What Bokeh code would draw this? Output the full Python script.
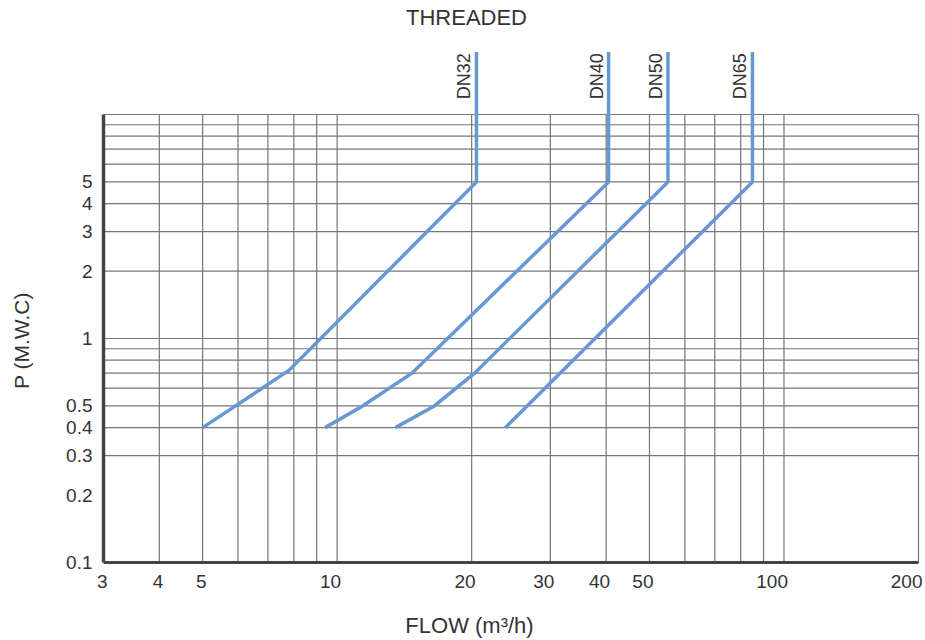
import math
from bokeh.plotting import figure
from bokeh.models import Range1d, FixedTicker, Label, LabelSet, ColumnDataSource
from bokeh.embed import file_html
from bokeh.resources import INLINE
from bokeh.core.properties import value

# ---------------- data ----------------
x_ticks = [3, 4, 5, 10, 20, 30, 40, 50, 100, 200]
x_tick_labels = ["3", "4", "5", "10", "20", "30", "40", "50", "100", "200"]
y_ticks = [0.1, 0.2, 0.3, 0.4, 0.5, 1, 2, 3, 4, 5]
y_tick_labels = ["0.1", "0.2", "0.3", "0.4", "0.5", "1", "2", "3", "4", "5"]
x_grid = [4, 5, 6, 7, 8, 9, 10, 20, 30, 40, 50, 60, 70, 80, 90, 100, 200]
y_grid = [0.3, 0.4, 0.5, 0.6, 0.7, 0.8, 0.9, 1, 2, 3, 4, 5, 6, 7, 8, 9, 10]

series_names = ["DN32", "DN40", "DN50", "DN65"]
dn32_flow = [5.0, 7.8, 20.5, 20.5]
dn32_p = [0.4, 0.72, 5, 19]
dn40_flow = [9.4, 11.4, 14.7, 40.5, 40.5]
dn40_p = [0.4, 0.5, 0.7, 5, 19]
dn50_flow = [13.5, 16.5, 20.3, 55, 55]
dn50_p = [0.4, 0.5, 0.7, 5, 19]
dn65_flow = [23.8, 85, 85]
dn65_p = [0.4, 5, 19]

title_text = "THREADED"
x_title = "FLOW (m³/h)"
y_title = "P (M.W.C)"

# ---------------- layout / styling constants ----------------
W, H = 924, 638
X_MIN, X_MAX = 3, 200          # axis extent (data)
Y_MIN, Y_MAX = 0.1, 10
PX_LEFT, PX_RIGHT = 103, 918   # where the axis extent sits on the canvas
PX_TOP, PX_BOTTOM = 114, 562
LABEL_Y = 11.7
BLUE = "#6699d2"
GRID = "#767676"
AXIS = "#444444"
TXT = "#333333"
FONT = "Liberation Sans"

# log ranges so that the axis extent lands on the chosen pixels
kx = (PX_RIGHT - PX_LEFT) / math.log10(X_MAX / X_MIN)
ky = (PX_BOTTOM - PX_TOP) / math.log10(Y_MAX / Y_MIN)
x_start = X_MIN * 10 ** (-PX_LEFT / kx)
x_end = X_MIN * 10 ** ((W - PX_LEFT) / kx)
y_start = Y_MIN * 10 ** (-(H - PX_BOTTOM) / ky)
y_end = Y_MIN * 10 ** (PX_BOTTOM / ky)

p = figure(width=W, height=H, x_axis_type="log", y_axis_type="log",
           x_range=Range1d(x_start, x_end), y_range=Range1d(y_start, y_end),
           output_backend="svg", toolbar_location=None,
           min_border_left=0, min_border_right=0, min_border_top=0, min_border_bottom=0)
p.title.visible = False
p.grid.visible = False
p.outline_line_color = None
p.background_fill_color = "white"
p.border_fill_color = "white"

# y axis, pinned at x = X_MIN
ya = p.yaxis[0]
ya.fixed_location = X_MIN
ya.ticker = FixedTicker(ticks=y_ticks)
ya.major_label_overrides = dict(zip(y_ticks, y_tick_labels))
ya.bounds = (Y_MIN, Y_MAX)
ya.axis_line_width = 3.5
ya.axis_line_color = AXIS
ya.major_tick_line_color = None
ya.minor_tick_line_color = None
ya.major_tick_out = 0
ya.major_tick_in = 0
ya.major_label_standoff = 11
ya.major_label_text_font = FONT
ya.major_label_text_font_size = "19px"
ya.major_label_text_color = TXT

# x axis, pinned at y = Y_MIN (labels drawn as a label set)
xa = p.xaxis[0]
xa.fixed_location = Y_MIN
xa.ticker = FixedTicker(ticks=[])
xa.bounds = (X_MIN, X_MAX)
xa.axis_line_width = 3
xa.axis_line_color = AXIS
xa.major_tick_line_color = None
xa.minor_tick_line_color = None
xa.major_label_text_font_size = "0px"

# grid
p.segment(x0=x_grid, y0=[Y_MIN] * len(x_grid), x1=x_grid, y1=[Y_MAX] * len(x_grid),
          line_color=GRID, line_width=1.2)
p.segment(x0=[X_MIN] * len(y_grid), y0=y_grid, x1=[X_MAX] * len(y_grid), y1=y_grid,
          line_color=GRID, line_width=1.2)

flows = [dn32_flow, dn40_flow, dn50_flow, dn65_flow]
pressures = [dn32_p, dn40_p, dn50_p, dn65_p]
for f, pr in zip(flows, pressures):
    p.line(f, pr, line_color=BLUE, line_width=3.5, line_join="miter")

# series labels
lab_src = ColumnDataSource(dict(x=[f[-1] for f in flows], y=[LABEL_Y] * len(flows), t=series_names))
p.add_layout(LabelSet(x="x", y="y", text="t", source=lab_src, angle=math.pi / 2,
                      text_align="left", text_baseline="alphabetic", x_offset=-6,
                      text_font=value(FONT), text_font_size="18px", text_color=TXT))

# x tick labels
xt_src = ColumnDataSource(dict(x=x_ticks, y=[Y_MIN] * len(x_ticks), t=x_tick_labels))
p.add_layout(LabelSet(x="x", y="y", text="t", source=xt_src,
                      text_align="right", text_baseline="alphabetic", x_offset=4, y_offset=-25,
                      text_font=value(FONT), text_font_size="19px", text_color=TXT))

# titles (screen units: from canvas bottom-left)
p.add_layout(Label(x=466, y=H - 17, x_units="screen", y_units="screen", text=title_text,
                   text_align="center", text_baseline="alphabetic",
                   text_font=FONT, text_font_size="22px", text_color=TXT))
p.add_layout(Label(x=469, y=H - 625, x_units="screen", y_units="screen", text=x_title,
                   text_align="center", text_baseline="alphabetic",
                   text_font=FONT, text_font_size="22px", text_color=TXT))
p.add_layout(Label(x=21, y=H - 340, x_units="screen", y_units="screen", text=y_title,
                   angle=math.pi / 2, text_align="center", text_baseline="middle",
                   text_font=FONT, text_font_size="21px", text_color=TXT))

open("out.html", "w").write(file_html(p, INLINE))
